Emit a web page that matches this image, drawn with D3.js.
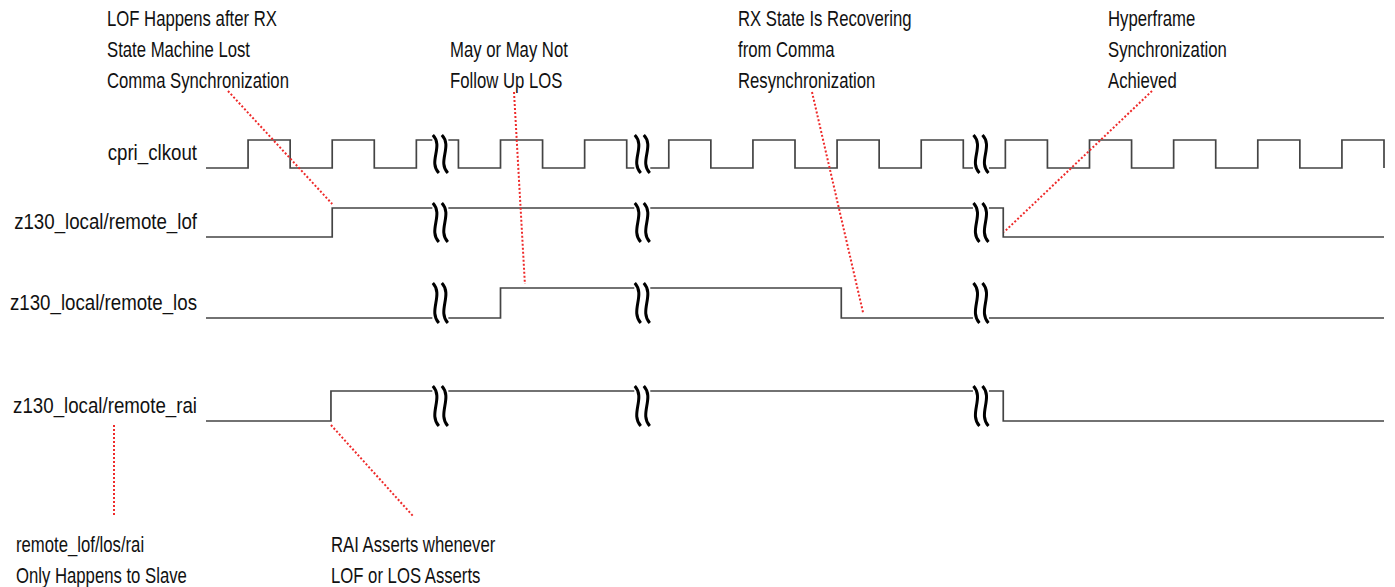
<!DOCTYPE html>
<html>
<head>
<meta charset="utf-8">
<script src="https://cdn.jsdelivr.net/npm/d3@7"></script>
<style>
  body { margin: 0; background: #fff; }
  text { font-family: "Liberation Sans", Arial, sans-serif; font-size: 22px; fill: #111; }
</style>
</head>
<body>
<svg id="timing"></svg>
<script>
// signal names (row labels)
var signalNames = ["cpri_clkout", "z130_local/remote_lof", "z130_local/remote_los", "z130_local/remote_rai"];

// clock level for each half cycle (time unit = half a clock period)
var clkLevels = [0, 1, 0, 1, 0, 1, 0, 1, 0, 1, 0, 1, 0, 1, 0, 1, 0, 1, 0, 1, 0, 1, 0, 1, 0, 1, 0, 1];

// level changes [time, level] for the status signals
var lofSteps = [[0, 0], [3, 1], [18.95, 0], [28, 0]];
var losSteps = [[0, 0], [7, 1], [15.1, 0], [28, 0]];
var raiSteps = [[0, 0], [2.97, 1], [18.95, 0], [28, 0]];

// where the time axis is broken
var breakTimes = [5.57, 10.37, 18.42];

// annotation texts
var noteLof = ["LOF Happens after RX", "State Machine Lost", "Comma Synchronization"];
var noteLos = ["May or May Not", "Follow Up LOS"];
var noteRecover = ["RX State Is Recovering", "from Comma", "Resynchronization"];
var noteHyper = ["Hyperframe", "Synchronization", "Achieved"];
var noteSlave = ["remote_lof/los/rai", "Only Happens to Slave"];
var noteRai = ["RAI Asserts whenever", "LOF or LOS Asserts"];

var width = 1395, height = 587;

var svg = d3.select("svg#timing")
    .attr("width", width)
    .attr("height", height);

var x = d3.scaleLinear()
    .domain([0, 28])
    .range([206, 1384]);

// high / low y of every row
var rowHigh = d3.scaleOrdinal().domain(signalNames).range([140, 208, 288, 391]);
var rowLow = d3.scaleOrdinal().domain(signalNames).range([168, 237, 318, 421]);

function levelY(name, level) {
    return level ? rowHigh(name) : rowLow(name);
}

// condensed text at x,y
function label(px, py, s, anchor, squeeze) {
    svg.append("g")
        .attr("transform", "translate(" + px + "," + py + ") scale(" + (squeeze || 0.76) + ",1)")
        .append("text")
        .style("text-anchor", anchor || "start")
        .text(s);
}

// turn the clock levels into steps
var clkSteps = clkLevels.map(function(l, i) { return [i, l]; });
clkSteps.push([28, 0]);

var waves = [
    {name: signalNames[0], steps: clkSteps},
    {name: signalNames[1], steps: lofSteps},
    {name: signalNames[2], steps: losSteps},
    {name: signalNames[3], steps: raiSteps}
];

waves.forEach(function(w) {
    var line = d3.line()
        .x(function(d) { return x(d[0]); })
        .y(function(d) { return levelY(w.name, d[1]); })
        .curve(d3.curveStepAfter);

    svg.append("path")
        .attr("d", line(w.steps))
        .attr("fill", "none")
        .attr("stroke", "#444")
        .attr("stroke-width", 1.7);

    label(197, rowLow(w.name) - 8, w.name, "end", 0.85);

    // break marks
    breakTimes.forEach(function(t) {
        var cx = x(t),
            top = rowHigh(w.name) - 5,
            bot = rowLow(w.name) + 5,
            h = bot - top;

        svg.append("rect")
            .attr("x", cx - 8)
            .attr("y", top)
            .attr("width", 16)
            .attr("height", h)
            .attr("fill", "#fff");

        [-4.5, 4.5].forEach(function(off) {
            var sx = cx + off;
            svg.append("path")
                .attr("d", "M" + (sx - 3) + "," + top +
                    " C" + (sx + 8) + "," + (top + h * 0.3) +
                    " " + (sx - 8) + "," + (top + h * 0.7) +
                    " " + (sx + 3) + "," + bot)
                .attr("fill", "none")
                .attr("stroke", "#000")
                .attr("stroke-width", 3);
        });
    });
});

// annotation text blocks
function noteBlock(lines, left, firstBase) {
    lines.forEach(function(s, i) {
        label(left, firstBase + i * 31, s);
    });
}

noteBlock(noteLof, 107, 26);
noteBlock(noteLos, 450, 57);
noteBlock(noteRecover, 738, 26);
noteBlock(noteHyper, 1108, 26);
noteBlock(noteSlave, 16, 552);
noteBlock(noteRai, 331, 552);

// red dotted pointers
function pointer(x1, y1, x2, y2) {
    svg.append("line")
        .attr("x1", x1).attr("y1", y1)
        .attr("x2", x2).attr("y2", y2)
        .attr("stroke", "#ee2a2a")
        .attr("stroke-width", 2)
        .attr("stroke-dasharray", "2,2");
}

var lof = signalNames[1], los = signalNames[2], rai = signalNames[3];

pointer(228, 91, x(lofSteps[1][0]), rowHigh(lof) - 4);
pointer(514, 92, x(7.58), rowHigh(los) - 4);
pointer(812, 92, x(15.62), rowLow(los) - 5);
pointer(1152, 91, x(18.97), rowLow(lof) - 5);
pointer(114, rowLow(rai) + 4, 114, 516);
pointer(x(raiSteps[1][0]), rowLow(rai) + 4, 413, 516);
</script>
</body>
</html>
